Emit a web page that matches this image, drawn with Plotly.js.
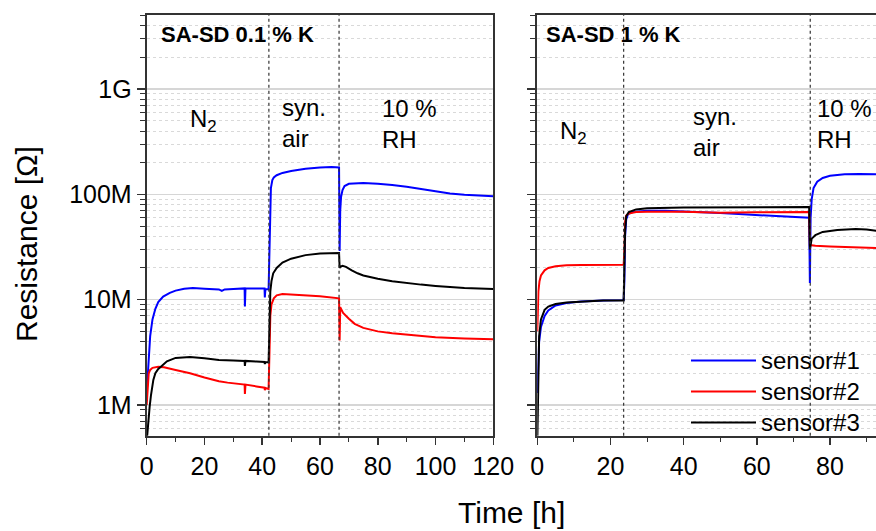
<!DOCTYPE html>
<html>
<head>
<meta charset="utf-8">
<script src="https://cdn.plot.ly/plotly-3.0.1.min.js"></script>
<style>html,body{margin:0;padding:0;background:#fff;}#chart{width:876px;height:531px;}</style>
</head>
<body>
<div id="chart"></div>
<script>
// ---- Data (time in h, resistance in Ohm) ----
// Left panel: SA-SD 0.1 % K
const tL_s1 = [0,0.5,1.2,2,3,4,5.7,8,10,13,16,20,25,26,27,30,33.9,34,34.2,38,40.8,40.9,41.1,42.2,42.4,42.6,42.8,43,43.5,44,45,47,50,55,60,64,66.6,66.8,67.0,67.3,67.8,68.5,70,73,75,80,85,90,95,100,105,110,115,120];
const rL_s1 = [1.3e6,2.1e6,4.5e6,6.5e6,8.2e6,9.5e6,10.7e6,11.6e6,12.2e6,12.7e6,12.9e6,12.7e6,12.5e6,12.1e6,12.5e6,12.6e6,12.8e6,8.6e6,12.8e6,12.8e6,12.8e6,10.5e6,12.6e6,12.5e6,20e6,50e6,90e6,115e6,137e6,145e6,152e6,160e6,167e6,175e6,180e6,182e6,180e6,29e6,70e6,95e6,110e6,120e6,126e6,127e6,128e6,126e6,123e6,118e6,112e6,107e6,102e6,99e6,98e6,96e6];

const tL_s2 = [0,0.3,0.7,1.2,2,4,6,10,15,20,25,28,33.9,34,34.2,38,40.8,40.9,41.1,42.2,42.4,42.6,42.8,43.2,44,45,47,50,55,60,66.6,66.8,67.0,67.3,68,70,72,75,80,85,90,95,100,110,120];
const rL_s2 = [1.0e6,1.6e6,2.0e6,2.15e6,2.25e6,2.3e6,2.28e6,2.15e6,2.0e6,1.82e6,1.68e6,1.63e6,1.56e6,1.27e6,1.56e6,1.5e6,1.46e6,1.38e6,1.45e6,1.42e6,2e6,4e6,7e6,9e6,10.3e6,11e6,11.3e6,11.2e6,11e6,10.8e6,10.3e6,4.1e6,8.5e6,8.2e6,7.5e6,6.6e6,5.9e6,5.4e6,5.0e6,4.8e6,4.65e6,4.5e6,4.4e6,4.28e6,4.22e6];

const tL_s3 = [0,0.5,1,1.5,2.3,3,4,5.2,7,10,15,20,25,30,33.9,34,34.2,38,40.8,40.9,41.1,42.2,42.4,42.6,42.8,43.2,43.8,45,47,50,55,60,66.6,66.8,67.0,67.8,69,71,73,75,80,85,90,95,100,110,120];
const rL_s3 = [0.45e6,0.7e6,0.95e6,1.25e6,1.73e6,2.0e6,2.2e6,2.35e6,2.6e6,2.8e6,2.85e6,2.78e6,2.68e6,2.65e6,2.62e6,2.35e6,2.62e6,2.58e6,2.56e6,2.45e6,2.55e6,2.55e6,4e6,8e6,12e6,15e6,17.8e6,20e6,22.5e6,24.5e6,26.5e6,27.5e6,27.8e6,20e6,20.5e6,21e6,20.5e6,19e6,17.8e6,17e6,15.8e6,15e6,14.4e6,13.9e6,13.5e6,12.9e6,12.6e6];

// Right panel: SA-SD 1 % K
const tR_s1 = [0,0.2,0.5,1,2,3,5,8,12,18,23.6,23.8,24.0,24.3,24.8,26,30,35,40,45,50,55,60,65,70,74.3,74.5,74.7,75,75.5,76.5,78,80,84,88,93];
const rR_s1 = [1.3e6,2.5e6,4e6,5.5e6,7e6,7.9e6,8.8e6,9.3e6,9.6e6,9.8e6,9.9e6,15e6,40e6,58e6,65e6,68e6,70e6,70e6,69e6,68e6,66.5e6,65e6,63.5e6,62e6,61e6,60e6,14.4e6,60e6,90e6,115e6,132e6,143e6,150e6,155e6,156e6,155e6];

const tR_s2 = [0,0.1,0.3,0.6,1,2,3,5,8,12,16,23.6,23.8,24.0,24.3,25,27,30,40,50,60,70,74.3,74.5,76,80,85,93];
const rR_s2 = [5e6,8e6,12e6,15e6,17e6,19e6,20e6,20.8e6,21.2e6,21.3e6,21.4e6,21.5e6,30e6,55e6,63e6,66e6,68e6,68.5e6,68.5e6,67e6,67.5e6,68e6,68e6,33e6,32.5e6,32e6,31.5e6,31e6];

const tR_s3 = [0,0.2,0.5,1,2,3,5,8,12,18,23.6,23.8,24.0,24.3,25,27,30,40,50,60,70,74.3,74.5,75,76,78,82,87,90,93];
const rR_s3 = [0.45e6,2e6,4.5e6,6.5e6,8e6,8.6e6,9.1e6,9.4e6,9.6e6,9.8e6,9.8e6,20e6,45e6,62e6,68e6,72e6,74e6,75e6,75.5e6,75.5e6,76e6,76e6,30e6,38e6,41e6,44e6,46e6,47e6,46.5e6,45e6];

const seriesNames = ['sensor#1','sensor#2','sensor#3'];
const seriesColors = ['#0000ff','#ff0000','#000000'];

const yTickVals = [1e6,1e7,1e8,1e9];
const yTickText = ['1M','10M','100M','1G'];

const switchLeft = [42.3, 66.6];
const switchRight = [23.6, 74.6];

// minor tick positions for log axes (2..9 x 10^k)
const yMinorVals = [];
for (let k = 5; k <= 9; k++) for (let m = 2; m <= 9; m++) yMinorVals.push(m * Math.pow(10, k));

const FONT = 'Liberation Sans, Arial, sans-serif';
const legendName = s => '<span style="font-size:24px">' + s + '</span>';

const traces = [
  {x:tL_s1, y:rL_s1, xaxis:'x', yaxis:'y', name:legendName(seriesNames[0]), showlegend:true},
  {x:tL_s2, y:rL_s2, xaxis:'x', yaxis:'y', name:legendName(seriesNames[1]), showlegend:true},
  {x:tL_s3, y:rL_s3, xaxis:'x', yaxis:'y', name:legendName(seriesNames[2]), showlegend:true},
  {x:tR_s1, y:rR_s1, xaxis:'x2', yaxis:'y2', name:seriesNames[0], showlegend:false},
  {x:tR_s2, y:rR_s2, xaxis:'x2', yaxis:'y2', name:seriesNames[1], showlegend:false},
  {x:tR_s3, y:rR_s3, xaxis:'x2', yaxis:'y2', name:seriesNames[2], showlegend:false}
].map((t, i) => Object.assign(t, {
  type:'scatter', mode:'lines', line:{color:seriesColors[i % 3], width:2}
}));

const yDom = [1 - 435.7/531, 1 - 15/531];
const yRange = [5.708, 9.704];

function yAxis(showLabels, mirror) {
  return {
    type:'log', domain:yDom, range:yRange,
    tickmode:'array', tickvals:yTickVals, ticktext:yTickText, showticklabels:showLabels,
    ticks:'outside', ticklen:8, tickwidth:1.5, tickcolor:'#333',
    showline:true, linecolor:'#333', linewidth:2, mirror:mirror,
    showgrid:true, gridcolor:'#d6d6d6', gridwidth:1.5,
    zeroline:false,
    tickfont:{family:FONT, size:25, color:'#000'},
    minor:{tickmode:'array', tickvals:yMinorVals, ticks:'outside', ticklen:5, tickwidth:1, tickcolor:'#333',
           showgrid:true, gridcolor:'#d9d9d9', gridwidth:1, griddash:'dot'}
  };
}
function xAxis(domain, range) {
  return {
    domain:domain, range:range, tick0:0, dtick:20,
    ticks:'outside', ticklen:7, tickwidth:1.5, tickcolor:'#333',
    showline:true, linecolor:'#333', linewidth:2, mirror:true,
    showgrid:false, zeroline:false,
    tickfont:{family:FONT, size:25, color:'#000'},
    minor:{dtick:10, ticks:'outside', ticklen:4, tickwidth:1, tickcolor:'#333', showgrid:false}
  };
}

const shapes = [];
switchLeft.forEach(v => shapes.push({type:'line', xref:'x', yref:'y domain', x0:v, x1:v, y0:0, y1:1, line:{color:'#333', width:1.2, dash:'dot'}}));
switchRight.forEach(v => shapes.push({type:'line', xref:'x2', yref:'y2 domain', x0:v, x1:v, y0:0, y1:1, line:{color:'#333', width:1.2, dash:'dot'}}));

const txt = (size) => ({family:FONT, size:size, color:'#000'});
const annotations = [
  {xref:'x domain', yref:'y domain', x:0.036, y:0.953, xanchor:'left', yanchor:'middle', text:'<b>SA-SD 0.1 % K</b>', showarrow:false, font:txt(22)},
  {xref:'x2 domain', yref:'y2 domain', x:0.02, y:0.953, xanchor:'left', yanchor:'middle', text:'<b>SA-SD 1 % K</b>', showarrow:false, font:txt(22)},
  // region labels, left
  {xref:'x', yref:'paper', x:19.5, y:1-120/531, xanchor:'center', yanchor:'middle', text:'N<sub>2</sub>', showarrow:false, font:txt(24)},
  {xref:'x', yref:'paper', x:46.0, y:1-123/531, xanchor:'left', yanchor:'middle', align:'left', text:'syn.<br>air', showarrow:false, font:txt(24)},
  {xref:'x', yref:'paper', x:80.8, y:1-124/531, xanchor:'left', yanchor:'middle', align:'left', text:'10 %<br>RH', showarrow:false, font:txt(24)},
  // region labels, right
  {xref:'x2', yref:'paper', x:10.0, y:1-132/531, xanchor:'center', yanchor:'middle', text:'N<sub>2</sub>', showarrow:false, font:txt(24)},
  {xref:'x2', yref:'paper', x:42.0, y:1-132/531, xanchor:'left', yanchor:'middle', align:'left', text:'syn.<br>air', showarrow:false, font:txt(24)},
  {xref:'x2', yref:'paper', x:76.0, y:1-124/531, xanchor:'left', yanchor:'middle', align:'left', text:'10 %<br>RH', showarrow:false, font:txt(24)},
  // axis titles
  {xref:'paper', yref:'paper', x:26/876, y:1-244/531, xanchor:'center', yanchor:'middle', textangle:-90, text:'Resistance [Ω]', showarrow:false, font:txt(30)},
  {xref:'paper', yref:'paper', x:511/876, y:1-512/531, xanchor:'center', yanchor:'middle', text:'Time [h]', showarrow:false, font:txt(30)}
];

const layout = {
  width:876, height:531,
  margin:{l:0, r:0, t:0, b:0},
  paper_bgcolor:'#fff', plot_bgcolor:'#fff',
  font:{family:FONT, color:'#000'},
  xaxis: Object.assign(xAxis([146.7/876, 493.3/876], [0,120]), {anchor:'y'}),
  xaxis2: Object.assign(xAxis([537.3/876, 1], [0, 92.57]), {anchor:'y2', mirror:true}),
  yaxis: Object.assign(yAxis(true, true), {anchor:'x'}),
  yaxis2: Object.assign(yAxis(false, false), {anchor:'x2'}),
  showlegend:true,
  legend:{x:686/876, y:1-340/531, xanchor:'left', yanchor:'top', bgcolor:'rgba(0,0,0,0)',
          font:{family:FONT, size:21.5, color:'#000'}, tracegroupgap:0, itemwidth:65},
  shapes:shapes,
  annotations:annotations
};

Plotly.newPlot('chart', traces, layout, {staticPlot:true, displayModeBar:false});
</script>
</body>
</html>
